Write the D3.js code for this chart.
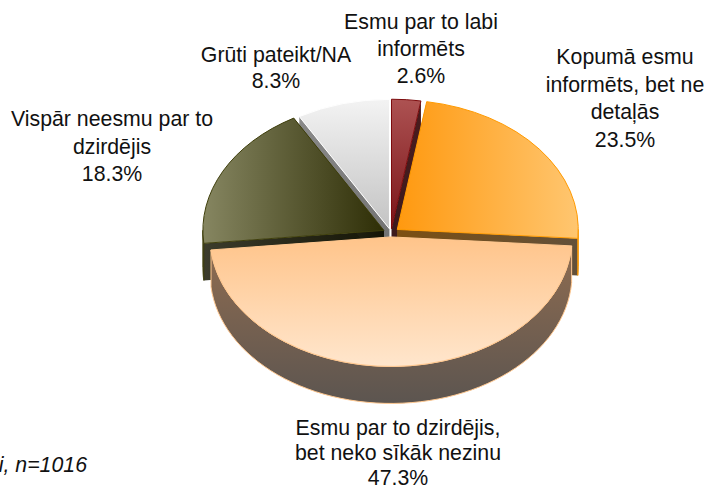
<!doctype html>
<html lang="lv">
<head>
<meta charset="utf-8">
<title>Pie</title>
<script src="https://d3js.org/d3.v7.min.js"></script>
<style>
html, body { margin: 0; padding: 0; background: #fff; }
svg { display: block; }
text { font-family: "Liberation Sans", Arial, sans-serif; font-size: 21.3px; fill: #111; text-anchor: middle; }
.note { font-style: italic; text-anchor: end; }
</style>
</head>
<body>
<svg width="705" height="487"></svg>
<script>
var categories = [
  ['Esmu par to labi', 'informēts'],
  ['Kopumā esmu', 'informēts, bet ne', 'detaļās'],
  ['Esmu par to dzirdējis,', 'bet neko sīkāk nezinu'],
  ['Vispār neesmu par to', 'dzirdējis'],
  ['Grūti pateikt/NA']
];
var values = [2.6, 23.5, 47.3, 18.3, 8.3];
var note = 'i, n=1016';

var svg = d3.select('svg');

// geometry of the tilted pie
var cx = 391, cy = 233, rx = 181, ry = 129.5, depth = 37;

// per slice look, same order as values
var looks = [
  {top: ['v', '#ad5252', '#7a1418'], wall: ['v', '#4a1c1e', '#3a1a1c'], stroke: '#7c0a0c', explode: 6, labelX: 421, labelY: 29, step: 27},
  {top: ['h', '#ff990f', '#ffc670'], wall: ['h', '#7c4f12', '#62503a'], stroke: '#ff9a00', explode: 8, labelX: 625, labelY: 64, step: 27.5},
  {top: ['v', '#ffc48a', '#ffe6cd'], wall: ['v', '#8f6c50', '#5c5550'], stroke: '#ffc890', explode: 5.5, labelX: 398, labelY: 435, step: 25.2},
  {top: ['h', '#868661', '#2e2e06'], wall: ['h', '#3c3c2c', '#141405'], stroke: '#3f3f0c', explode: 8, labelX: 112, labelY: 126, step: 27.5},
  {top: ['v', '#f3f3f3', '#c3c3c3'], wall: ['v', '#8a8a8a', '#6e6e6e'], stroke: '#ffffff', explode: 6, labelX: 276, labelY: 62, step: 25.5}
];

var pie = d3.pie().sort(null).value(function(d){ return d; });
var arcs = pie(values);

var defs = svg.append('defs');
function gradient(id, spec) {
  var g = defs.append('linearGradient').attr('id', id)
    .attr('x1', 0).attr('y1', 0)
    .attr('x2', spec[0] === 'h' ? 1 : 0)
    .attr('y2', spec[0] === 'v' ? 1 : 0);
  g.append('stop').attr('offset', 0).attr('stop-color', spec[1]);
  g.append('stop').attr('offset', 1).attr('stop-color', spec[2]);
  return 'url(#' + id + ')';
}

var line = d3.line();
var topArc = d3.arc().innerRadius(0).outerRadius(rx);

function rim(o, a, r, drop) {
  return [o[0] + r * Math.sin(a), o[1] - r * ry / rx * Math.cos(a) + drop];
}

function radialWall(o, a) {
  return line([rim(o, a, 0, 0), rim(o, a, rx, 0), rim(o, a, rx, depth), rim(o, a, 0, depth)]) + 'Z';
}

function outerWall(o, a0, a1) {
  var n = 60, upper = [], lower = [];
  d3.range(n + 1).forEach(function(i){
    var a = a0 + (a1 - a0) * i / n;
    upper.push(rim(o, a, rx, 0));
    lower.unshift(rim(o, a, rx, depth));
  });
  return line(upper.concat(lower)) + 'Z';
}

// back to front
var order = [4, 0, 3, 1, 2];
order.forEach(function(i){
  var d = arcs[i], look = looks[i];
  var mid = (d.startAngle + d.endAngle) / 2;
  var o = [cx + look.explode * Math.sin(mid), cy - look.explode * ry / rx * Math.cos(mid)];
  var wallFill = gradient('wall' + i, look.wall);
  var g = svg.append('g');

  g.append('path').attr('d', radialWall(o, d.startAngle)).attr('fill', wallFill);
  g.append('path').attr('d', radialWall(o, d.endAngle)).attr('fill', wallFill);

  // only the front half of the rim can be seen
  var a0 = Math.max(d.startAngle, Math.PI / 2), a1 = Math.min(d.endAngle, Math.PI * 1.5);
  if (a1 > a0) {
    g.append('path').attr('d', outerWall(o, a0, a1))
      .attr('fill', wallFill)
      .attr('stroke', look.stroke).attr('stroke-width', 1);
  }

  g.append('path')
    .attr('d', topArc(d))
    .attr('transform', 'translate(' + o[0] + ',' + o[1] + ') scale(1,' + (ry / rx) + ')')
    .attr('fill', gradient('top' + i, look.top))
    .attr('stroke', look.stroke)
    .attr('stroke-width', 1)
    .attr('vector-effect', 'non-scaling-stroke');
});

// labels
categories.forEach(function(lines, i){
  var t = svg.append('text').attr('x', looks[i].labelX).attr('y', looks[i].labelY);
  lines.concat([values[i].toFixed(1) + '%']).forEach(function(s, k){
    t.append('tspan').attr('x', looks[i].labelX).attr('dy', k ? looks[i].step : 0).text(s);
  });
});

svg.append('text').attr('class', 'note').attr('x', 87).attr('y', 472).text(note);
</script>
</body>
</html>
